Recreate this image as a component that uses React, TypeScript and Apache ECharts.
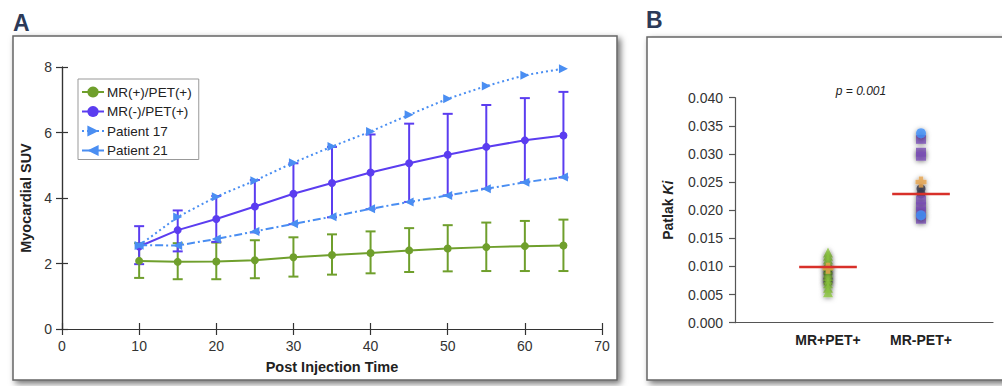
import React, { useEffect, useRef } from "react";
import * as echarts from "echarts";

// ---------- Panel A data ----------
const times = [10, 15, 20, 25, 30, 35, 40, 45, 50, 55, 60, 65];
const xTicksA = [0, 70, 10];
const yTicksA = [0, 8, 2];
const greenMean = [2.08, 2.05, 2.06, 2.1, 2.19, 2.26, 2.32, 2.4, 2.46, 2.5, 2.53, 2.55];
const greenUpper = [2.62, 2.62, 2.64, 2.71, 2.8, 2.89, 2.98, 3.08, 3.17, 3.25, 3.3, 3.34];
const greenLower = [1.56, 1.52, 1.52, 1.55, 1.6, 1.66, 1.7, 1.74, 1.76, 1.77, 1.77, 1.77];
const purpleMean = [2.52, 3.02, 3.36, 3.74, 4.13, 4.46, 4.78, 5.06, 5.32, 5.56, 5.76, 5.91];
const purpleUpper = [3.14, 3.62, 4.06, 4.55, 5.06, 5.56, 5.94, 6.27, 6.57, 6.84, 7.05, 7.24];
const purpleLower = [1.98, 2.37, 2.66, 2.95, 3.2, 3.41, 3.66, 3.88, 4.08, 4.28, 4.48, 4.63];
const patient17 = [2.55, 3.42, 4.04, 4.53, 5.08, 5.57, 6.03, 6.54, 7.03, 7.42, 7.75, 7.95];
const patient21 = [2.56, 2.55, 2.75, 2.98, 3.21, 3.43, 3.67, 3.88, 4.08, 4.28, 4.48, 4.64];
const seriesNamesA = ["MR(+)/PET(+)", "MR(-)/PET(+)", "Patient 17", "Patient 21"];

// ---------- Panel B data ----------
const categoriesB = ["MR+PET+", "MR-PET+"];
const yTicksB = [0, 0.04, 0.005];
const g1Green = [0.0125, 0.0119, 0.0113, 0.0107, 0.0101, 0.0095, 0.0089, 0.0083, 0.0077, 0.007, 0.0062, 0.0054];
const g1Dark = [0.0088, 0.0078, 0.0072];
const g1Orange = [0.0097];
const g2Blue = [0.0337, 0.0191];
const g2Purple = [0.0326, 0.0303, 0.0296, 0.0218, 0.0207, 0.0198, 0.0184];
const g2Dark = [0.0238, 0.0229];
const g2Orange = [0.025];
const medians = [0.0099, 0.0229];

const GREEN = "#6f9f2c";
const PURPLE = "#5b3df0";
const BLUE = "#4a8ef2";
const FONT = "'Liberation Sans', Arial, Helvetica, sans-serif";

export default function App() {
  const ref = useRef<HTMLDivElement>(null);

  useEffect(() => {
    if (!ref.current) return;
    const chart = echarts.init(ref.current, undefined, { renderer: "svg" });

    const errRender = (color: string) => (params: any, api: any) => {
      const x = api.value(0);
      const lo = api.coord([x, api.value(1)]);
      const hi = api.coord([x, api.value(2)]);
      const w = 5;
      const style = { stroke: color, lineWidth: 2 };
      return {
        type: "group",
        children: [
          { type: "line", shape: { x1: lo[0], y1: lo[1], x2: hi[0], y2: hi[1] }, style },
          { type: "line", shape: { x1: lo[0] - w, y1: lo[1], x2: lo[0] + w, y2: lo[1] }, style },
          { type: "line", shape: { x1: hi[0] - w, y1: hi[1], x2: hi[0] + w, y2: hi[1] }, style },
        ],
      };
    };

    const medianRender = (params: any, api: any) => {
      const x = api.value(0);
      const y = api.value(1);
      const a = api.coord([x - 0.31, y]);
      const b = api.coord([x + 0.31, y]);
      return {
        type: "line",
        shape: { x1: a[0], y1: a[1], x2: b[0], y2: b[1] },
        style: { stroke: "#d8302a", lineWidth: 2.5 },
      };
    };

    const axisLineA = { show: true, lineStyle: { color: "#333", width: 1.2 } };
    const tickA = { show: true, length: 6, lineStyle: { color: "#333", width: 1.2 } };
    const labelA = { fontSize: 14, color: "#333", fontFamily: FONT };

    const shadowPts = { shadowBlur: 5, shadowColor: "rgba(0,0,0,0.55)", shadowOffsetY: 1 };
    const pts = (xIdx: number, vals: number[]) => vals.map((v) => [xIdx, v]);

    chart.setOption({
      animation: false,
      textStyle: { fontFamily: FONT },
      graphic: [
        {
          type: "rect",
          z: -10,
          shape: { x: 13, y: 36, width: 604, height: 344 },
          style: { fill: "#fff", stroke: "#666", lineWidth: 1.5, shadowBlur: 6, shadowOffsetX: 3, shadowOffsetY: 3, shadowColor: "rgba(0,0,0,0.55)" },
        },
        {
          type: "rect",
          z: -10,
          shape: { x: 647, y: 37, width: 400, height: 343 },
          style: { fill: "#fff", stroke: "#666", lineWidth: 1.5, shadowBlur: 6, shadowOffsetX: 3, shadowOffsetY: 3, shadowColor: "rgba(0,0,0,0.55)" },
        },
        {
          type: "text",
          x: 13,
          y: 11,
          style: { text: "A", font: `bold 23px ${FONT}`, fill: "#2c3a58" },
        },
        {
          type: "text",
          x: 646,
          y: 8,
          style: { text: "B", font: `bold 23px ${FONT}`, fill: "#2c3a58" },
        },
        {
          type: "text",
          x: 861,
          y: 91,
          style: { text: "p = 0.001", font: `italic 12px ${FONT}`, fill: "#222", align: "center", verticalAlign: "middle" },
        },
      ],
      legend: {
        data: seriesNamesA,
        orient: "vertical",
        left: 78,
        top: 79,
        padding: [6, 7, 2, 3],
        itemGap: 5.5,
        itemWidth: 22,
        itemHeight: 14,
        borderColor: "#999",
        borderWidth: 1,
        backgroundColor: "#fff",
        textStyle: { fontSize: 13.5, color: "#222", fontFamily: FONT, padding: [0, 0, 0, -2] },
      },
      grid: [
        { left: 62, top: 67, width: 540, height: 262 },
        { left: 735, top: 97.7, width: 258, height: 225 },
      ],
      xAxis: [
        {
          type: "value",
          gridIndex: 0,
          min: xTicksA[0],
          max: xTicksA[1],
          interval: xTicksA[2],
          axisLine: axisLineA,
          axisTick: tickA,
          axisLabel: { ...labelA, margin: 10 },
          splitLine: { show: false },
          name: "Post Injection Time",
          nameLocation: "middle",
          nameGap: 30,
          nameTextStyle: { fontSize: 14.5, fontWeight: "bold", color: "#222", fontFamily: FONT },
        },
        {
          type: "value",
          gridIndex: 0,
          position: "top",
          min: xTicksA[0],
          max: xTicksA[1],
          interval: xTicksA[2],
          axisLine: axisLineA,
          axisTick: tickA,
          axisLabel: { show: false },
          splitLine: { show: false },
        },
        {
          type: "value",
          gridIndex: 1,
          min: 0,
          max: 2.774,
          interval: 1,
          axisLine: { show: true, lineStyle: { color: "#555", width: 1.2 } },
          axisTick: { show: false },
          axisLabel: {
            fontSize: 14,
            fontWeight: "bold",
            color: "#222",
            fontFamily: FONT,
            margin: 10,
            showMaxLabel: false,
            formatter: (v: number) => (Number.isInteger(v) && v >= 1 ? categoriesB[v - 1] || "" : ""),
          },
          splitLine: { show: false },
        },
      ],
      yAxis: [
        {
          type: "value",
          gridIndex: 0,
          min: yTicksA[0],
          max: yTicksA[1],
          interval: yTicksA[2],
          axisLine: axisLineA,
          axisTick: tickA,
          axisLabel: { ...labelA, margin: 10 },
          splitLine: { show: false },
          name: "Myocardial SUV",
          nameLocation: "middle",
          nameGap: 27,
          nameTextStyle: { fontSize: 14.5, fontWeight: "bold", color: "#222", fontFamily: FONT },
        },
        {
          type: "value",
          gridIndex: 0,
          position: "right",
          min: yTicksA[0],
          max: yTicksA[1],
          interval: yTicksA[2],
          axisLine: axisLineA,
          axisTick: tickA,
          axisLabel: { show: false },
          splitLine: { show: false },
        },
        {
          type: "value",
          gridIndex: 1,
          min: yTicksB[0],
          max: yTicksB[1],
          interval: yTicksB[2],
          axisLine: { show: true, lineStyle: { color: "#555", width: 1.2 } },
          axisTick: { show: true, length: 6, lineStyle: { color: "#555", width: 1.2 } },
          axisLabel: {
            fontSize: 14,
            color: "#333",
            fontFamily: FONT,
            margin: 12,
            formatter: (v: number) => v.toFixed(3),
          },
          splitLine: { show: false },
          name: "{b|Patlak }{i|Ki}",
          nameLocation: "middle",
          nameGap: 60,
          nameTextStyle: {
            rich: {
              b: { fontSize: 14, fontWeight: "bold", color: "#222", fontFamily: FONT },
              i: { fontSize: 14, fontWeight: "bold", fontStyle: "italic", color: "#222", fontFamily: FONT },
            },
          },
        },
      ],
      series: [
        {
          type: "custom",
          name: "errGreen",
          xAxisIndex: 0,
          yAxisIndex: 0,
          renderItem: errRender(GREEN),
          data: times.map((t, i) => [t, greenLower[i], greenUpper[i]]),
          z: 2,
        },
        {
          type: "custom",
          name: "errPurple",
          xAxisIndex: 0,
          yAxisIndex: 0,
          renderItem: errRender(PURPLE),
          data: times.map((t, i) => [t, purpleLower[i], purpleUpper[i]]),
          z: 2,
        },
        {
          type: "line",
          name: seriesNamesA[0],
          xAxisIndex: 0,
          yAxisIndex: 0,
          data: times.map((t, i) => [t, greenMean[i]]),
          symbol: "circle",
          symbolSize: 8,
          itemStyle: { color: GREEN },
          lineStyle: { color: GREEN, width: 2 },
          z: 3,
        },
        {
          type: "line",
          name: seriesNamesA[1],
          xAxisIndex: 0,
          yAxisIndex: 0,
          data: times.map((t, i) => [t, purpleMean[i]]),
          symbol: "circle",
          symbolSize: 8,
          itemStyle: { color: PURPLE },
          lineStyle: { color: PURPLE, width: 2 },
          z: 3,
        },
        {
          type: "line",
          name: seriesNamesA[2],
          xAxisIndex: 0,
          yAxisIndex: 0,
          data: times.map((t, i) => [t, patient17[i]]),
          symbol: "path://M0,0L10,5L0,10Z",
          symbolSize: 9,
          itemStyle: { color: BLUE },
          lineStyle: { color: BLUE, width: 2, type: [2, 3] },
          z: 4,
        },
        {
          type: "line",
          name: seriesNamesA[3],
          xAxisIndex: 0,
          yAxisIndex: 0,
          data: times.map((t, i) => [t, patient21[i]]),
          symbol: "path://M10,0L0,5L10,10Z",
          symbolSize: 9,
          itemStyle: { color: BLUE },
          lineStyle: { color: BLUE, width: 2, type: [8, 3, 2, 3] },
          z: 4,
        },
        // Panel B
        {
          type: "scatter",
          xAxisIndex: 2,
          yAxisIndex: 2,
          data: pts(1, g1Dark),
          symbol: "circle",
          symbolSize: 9,
          itemStyle: { color: "#3d4a3a", opacity: 0.8, ...shadowPts },
          z: 3,
        },
        {
          type: "scatter",
          xAxisIndex: 2,
          yAxisIndex: 2,
          data: pts(1, g1Green),
          symbol: "triangle",
          symbolSize: 10,
          itemStyle: { color: "#8cc63f", ...shadowPts },
          z: 4,
        },
        {
          type: "scatter",
          xAxisIndex: 2,
          yAxisIndex: 2,
          data: pts(2, g2Dark),
          symbol: "circle",
          symbolSize: 9,
          itemStyle: { color: "#3b3b52", opacity: 0.8, ...shadowPts },
          z: 3,
        },
        {
          type: "scatter",
          xAxisIndex: 2,
          yAxisIndex: 2,
          data: pts(2, g2Purple),
          symbol: "rect",
          symbolSize: [10, 9],
          itemStyle: { color: "#7a4fb5", ...shadowPts },
          z: 4,
        },
        {
          type: "scatter",
          xAxisIndex: 2,
          yAxisIndex: 2,
          data: pts(2, g2Blue),
          symbol: "circle",
          symbolSize: 10,
          itemStyle: { color: "#3f8ff7", ...shadowPts },
          z: 5,
        },
        {
          type: "scatter",
          xAxisIndex: 2,
          yAxisIndex: 2,
          data: [...pts(1, g1Orange), ...pts(2, g2Orange)],
          symbol: "path://M3,0H7V3H10V7H7V10H3V7H0V3H3Z",
          symbolSize: 11,
          itemStyle: { color: "#e6a44e", ...shadowPts },
          z: 6,
        },
        {
          type: "custom",
          xAxisIndex: 2,
          yAxisIndex: 2,
          renderItem: medianRender,
          data: medians.map((m, i) => [i + 1, m]),
          z: 7,
        },
      ],
    });

    return () => chart.dispose();
  }, []);

  return (
    <div
      ref={ref}
      style={{ position: "absolute", left: 0, top: 0, width: 1002, height: 386, background: "#fff" }}
    />
  );
}
